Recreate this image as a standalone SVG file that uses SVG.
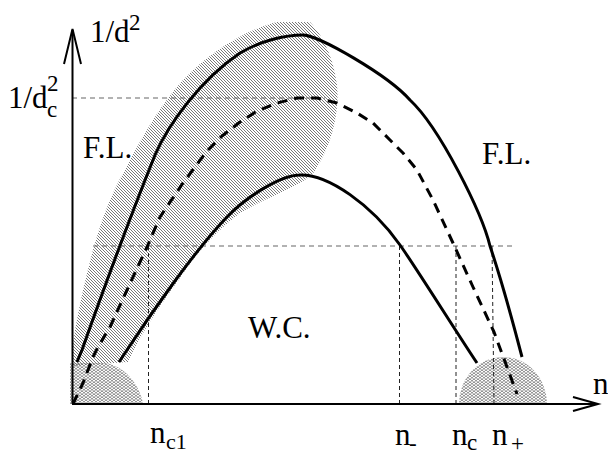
<svg xmlns="http://www.w3.org/2000/svg" width="608" height="455" viewBox="0 0 608 455">
<defs>
<pattern id="diag" patternUnits="userSpaceOnUse" width="3" height="3">
<path d="M0,0 L3,3 M-1,2 L1,4 M2,-1 L4,1" stroke="#555" stroke-width="0.8" fill="none"/>
</pattern>
<pattern id="wave" patternUnits="userSpaceOnUse" width="4" height="3">
<path d="M0,3 Q2,-0.6 4,3 M-2,1.5 Q0,-2.1 2,1.5 M2,1.5 Q4,-2.1 6,1.5 M-2,4.5 Q0,0.9 2,4.5 M2,4.5 Q4,0.9 6,4.5" stroke="#666" stroke-width="0.6" fill="none"/>
</pattern>
<style>
.t{font-family:"Liberation Serif","Times New Roman",serif;fill:#000}
.big{font-size:31px}
.sm{font-size:23px}
.curve{fill:none;stroke:#000;stroke-width:3;stroke-linejoin:round}
.dash{stroke-dasharray:10 7}
.hguide{stroke:#666;stroke-width:1.2;stroke-dasharray:5 4;fill:none}
.vguide{stroke:#222;stroke-width:1;stroke-dasharray:4 3;fill:none}
.axis{stroke:#000;stroke-width:2;fill:none}
</style>
</defs>
<g id="regions">
<path id="hatch" fill="url(#diag)" d="M73,350 L73,345 C76,320 85,280 93,250 C100,225 110,195 125,170 C140,140 160,105 183,80 C210,52 245,30 277,22 L310,22 C322,35 333,55 337,85 C340,115 330,150 312,175 C295,188 265,198 240,213 C215,232 195,255 180,278 C160,305 140,335 128,362 L72,366 Z"/>
<path id="blob-left" fill="url(#wave)" d="M70,404 L70,363 L105,363 C125,366 140,385 143,404 Z"/>
<path id="blob-right" fill="url(#wave)" d="M459,404 A44,47 0 0 1 547,404 Z"/>
</g>
<g id="guides">
<line class="hguide" x1="72" y1="98" x2="325" y2="98"/>
<line class="hguide" x1="93" y1="246" x2="515" y2="246"/>
<line class="vguide" x1="148.5" y1="246" x2="148.5" y2="404"/>
<line class="vguide" x1="399.5" y1="246" x2="399.5" y2="404"/>
<line class="vguide" x1="456" y1="246" x2="456" y2="404"/>
<line class="vguide" x1="492" y1="246" x2="494" y2="404"/>
</g>
<g id="connectors">
<path id="outer" class="curve" d="M77,362 L82,350 C105,285 133,210 155,155 C168,125 200,80 240,53 C260,41 285,35 303,35 C318,35 388,75 410,100 C440,128 482,213 490,246 C502,282 515,330 522,357"/>
<path id="inner" class="curve" d="M119,362 L127,350 C150,315 195,250 227,217 C245,198 280,175 300,175 C328,174 372,205 400,245 C415,266 455,330 477,363"/>
<polyline id="critical" class="curve dash" points="73,404 83,383 93,357 98,347 110,327 127,290 147,247 160,217 183,183 207,151 222,136 240,122 257,111 277,103 297,98 317,98 337,103 357,113 373,123 390,140 403,153 417,170 433,200 453,243 473,287 494,332 517,394"/>
</g>
<g id="axes">
<line class="axis" x1="72.5" y1="404" x2="72.5" y2="30"/>
<polyline class="axis" points="64,64 72.5,29 81,64"/>
<line class="axis" x1="72" y1="404" x2="597" y2="404"/>
<polyline class="axis" points="573,397 598,404 573,411"/>
</g>
<g id="labels">
<text class="t big" x="90" y="42">1/d</text>
<text class="t sm" x="129" y="30">2</text>
<text class="t big" x="8" y="108">1/d</text>
<text class="t sm" x="47" y="91">2</text>
<text class="t sm" x="47" y="117">c</text>
<text class="t big" x="83" y="158">F.L.</text>
<text class="t big" x="482" y="164">F.L.</text>
<text class="t big" x="248" y="338">W.C.</text>
<text class="t big" x="593" y="394">n</text>
<text class="t big" x="150" y="443">n</text>
<text class="t sm" x="166" y="449" style="font-size:22px">c1</text>
<text class="t big" x="395" y="445">n</text>
<text class="t sm" x="409" y="451">-</text>
<text class="t big" x="452" y="445">n</text>
<text class="t sm" x="467" y="450">c</text>
<text class="t big" x="492" y="445">n</text>
<text class="t sm" x="511" y="451">+</text>
</g>
</svg>
